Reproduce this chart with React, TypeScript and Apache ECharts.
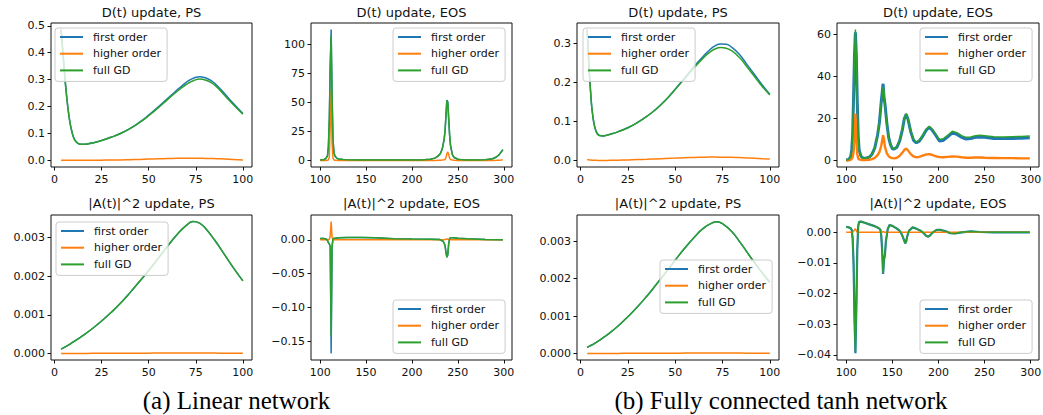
import React, { useEffect, useRef } from "react";
import * as echarts from "echarts";

// ---------- data ----------
const seriesNames = ["first order", "higher order", "full GD"];
const titles = [
  "D(t) update, PS",
  "D(t) update, EOS",
  "D(t) update, PS",
  "D(t) update, EOS",
  "|A(t)|^2 update, PS",
  "|A(t)|^2 update, EOS",
  "|A(t)|^2 update, PS",
  "|A(t)|^2 update, EOS",
];
const captions = ["(a) Linear network", "(b) Fully connected tanh network"];

const psTicks = [0, 25, 50, 75, 100];
const eosTicks = [100, 150, 200, 250, 300];
const p1YTicks = [0, 0.1, 0.2, 0.3, 0.4, 0.5];
const p2YTicks = [0, 25, 50, 75, 100];
const p3YTicks = [0, 0.1, 0.2, 0.3];
const p4YTicks = [0, 20, 40, 60];
const p5YTicks = [0, 0.001, 0.002, 0.003];
const p6YTicks = [-0.15, -0.1, -0.05, 0];
const p7YTicks = [0, 0.001, 0.002, 0.003];
const p8YTicks = [-0.04, -0.03, -0.02, -0.01, 0];

// Panel 1: linear, D(t), PS
const p1X = [3.5, 4.5, 5.5, 6.5, 7.5, 8.5, 9.5, 10.5, 12, 14, 16, 18, 20, 25, 30, 35, 40, 45, 50, 55, 60, 65, 68, 71, 74, 77, 80, 83, 86, 90, 95, 100];
const p1Full = [0.486, 0.4, 0.31, 0.235, 0.175, 0.13, 0.1, 0.08, 0.066, 0.06, 0.06, 0.062, 0.065, 0.074, 0.086, 0.1, 0.118, 0.14, 0.166, 0.195, 0.226, 0.256, 0.272, 0.287, 0.297, 0.302, 0.299, 0.29, 0.274, 0.244, 0.207, 0.172];
const p1First = [0.486, 0.4, 0.31, 0.235, 0.175, 0.13, 0.1, 0.08, 0.066, 0.06, 0.06, 0.062, 0.065, 0.074, 0.086, 0.1, 0.118, 0.141, 0.168, 0.198, 0.23, 0.261, 0.279, 0.295, 0.306, 0.311, 0.307, 0.297, 0.28, 0.25, 0.211, 0.174];
const p1Higher = [0.001, 0.001, 0.0008, 0.0006, 0.0005, 0.0004, 0.0003, 0.0003, 0.0003, 0.0003, 0.0004, 0.0005, 0.0006, 0.001, 0.0015, 0.002, 0.003, 0.004, 0.005, 0.006, 0.007, 0.0078, 0.008, 0.0082, 0.0082, 0.008, 0.0077, 0.0072, 0.0066, 0.0055, 0.0038, 0.002];

// Panel 2: linear, D(t), EOS
const p2X = [100, 104, 106, 108, 109, 110, 111, 112, 113, 114, 115, 116, 118, 120, 125, 130, 140, 160, 180, 200, 210, 220, 225, 228, 231, 233, 235, 236, 237, 238, 239, 240, 241, 242, 244, 246, 250, 255, 260, 270, 280, 288, 292, 295, 297, 299];
const p2Full = [0.3, 0.6, 1.5, 4, 12, 35, 80, 107.7, 55, 18, 7, 4, 2, 1.3, 0.8, 0.5, 0.3, 0.3, 0.3, 0.3, 0.4, 1, 2, 3.5, 6, 10, 18, 25, 38, 51.5, 50, 36, 22, 13, 5, 2.5, 1, 0.5, 0.4, 0.4, 0.6, 1.5, 3, 5, 7, 9.4];
const p2First = [0.3, 0.6, 1.5, 4, 12, 36, 82, 112.8, 57, 18, 7, 4, 2, 1.3, 0.8, 0.5, 0.3, 0.3, 0.3, 0.3, 0.4, 1, 2, 3.5, 6, 10, 18, 25, 38, 52, 50.5, 36, 22, 13, 5, 2.5, 1, 0.5, 0.4, 0.4, 0.6, 1.5, 3, 5, 7, 9.4];
const p2Higher = [0, 0, 0, 0.1, 0.5, 3, 30, 60.5, 15, 2, 0.5, 0.2, 0.1, 0.05, 0, 0, 0, 0, 0, 0, 0, 0, 0.05, 0.1, 0.2, 0.3, 0.6, 1, 2.5, 5.5, 7.4, 5, 2, 0.8, 0.3, 0.1, 0.05, 0, 0, 0, 0, 0.05, 0.1, 0.2, 0.3, 0.5];

// Panel 3: tanh, D(t), PS
const p3X = [3.5, 4, 4.5, 5, 5.5, 6, 7, 8, 9, 10, 12, 14, 17, 20, 25, 30, 35, 40, 45, 50, 55, 60, 65, 68, 71, 74, 77, 80, 84, 88, 92, 96, 100];
const p3Full = [0.336, 0.29, 0.24, 0.2, 0.165, 0.135, 0.098, 0.078, 0.068, 0.064, 0.063, 0.065, 0.069, 0.074, 0.084, 0.097, 0.113, 0.132, 0.155, 0.182, 0.21, 0.238, 0.264, 0.277, 0.286, 0.29, 0.288, 0.281, 0.264, 0.24, 0.215, 0.19, 0.168];
const p3First = [0.336, 0.29, 0.24, 0.2, 0.165, 0.135, 0.098, 0.078, 0.068, 0.064, 0.063, 0.065, 0.069, 0.074, 0.084, 0.097, 0.113, 0.132, 0.155, 0.183, 0.212, 0.241, 0.268, 0.283, 0.294, 0.299, 0.298, 0.29, 0.272, 0.246, 0.22, 0.194, 0.17];
const p3Higher = [0.002, 0.0018, 0.0015, 0.0012, 0.001, 0.0008, 0.0005, 0.0003, 0.0002, 0.0001, 0.0001, 0.0002, 0.0004, 0.0007, 0.0014, 0.0022, 0.003, 0.004, 0.005, 0.006, 0.007, 0.0078, 0.0084, 0.0086, 0.0086, 0.0085, 0.0083, 0.008, 0.0074, 0.0066, 0.0057, 0.0046, 0.0035];

// Panel 4: tanh, D(t), EOS
const p4X = [100, 103, 105, 106, 107, 108, 109, 110, 111, 112, 113, 114, 116, 118, 120, 125, 128, 131, 134, 136, 138, 140, 141, 142, 144, 146, 148, 150, 152, 155, 158, 161, 163, 165, 167, 170, 173, 176, 179, 183, 187, 190, 193, 197, 201, 205, 210, 215, 220, 225, 230, 235, 240, 245, 250, 260, 270, 280, 290, 299];
const p4Full = [0.2, 0.5, 2, 5, 12, 30, 50, 62.3, 50, 28, 12, 5, 2, 1.2, 1, 1.5, 3, 6, 12, 18, 27, 35, 33, 26, 17, 11, 7.5, 5.8, 5.6, 6.5, 9.5, 15, 20, 22.3, 20, 14, 10, 8.8, 9.5, 12, 15, 16.3, 15, 12.5, 10, 10.3, 12, 13.9, 13.2, 11.8, 11, 11.2, 11.8, 12, 11.8, 11.3, 11.2, 11.3, 11.4, 11.6];
const p4First = [0.2, 0.5, 2, 5, 12, 30, 50, 61, 50, 28, 12, 5, 2, 1.2, 1, 1.5, 3, 6, 12, 18, 28, 36.5, 30, 27, 18, 11, 7.5, 5.6, 5.4, 6.3, 9.3, 14.8, 19.8, 22, 19.6, 13.6, 9.6, 8.4, 9.1, 11.6, 14.6, 15.8, 14.5, 12, 9.3, 9.5, 11.2, 13.1, 12.4, 11, 10.2, 10.4, 11, 11.2, 11, 10.5, 10.4, 10.5, 10.6, 10.8];
const p4Higher = [0, 0.1, 0.3, 0.8, 1.5, 4, 10, 22.3, 12, 3, 1, 0.5, 0.3, 0.2, 0.2, 0.3, 0.6, 1.2, 2.5, 4, 7, 12, 10, 6.5, 3.5, 2, 1.4, 1.1, 1, 1.3, 2.2, 3.8, 5, 5.7, 4.8, 3, 1.9, 1.5, 1.7, 2.3, 2.9, 3, 2.7, 2, 1.6, 1.5, 1.7, 1.9, 1.8, 1.5, 1.3, 1.3, 1.4, 1.4, 1.3, 1.2, 1.1, 1.1, 1.0, 1.0];

// Panel 5: linear, |A|^2, PS
const p5X = [3.5, 5, 7.5, 10, 12.5, 15, 20, 25, 30, 35, 40, 45, 50, 55, 60, 65, 70, 73.5, 77, 80, 85, 90, 95, 100];
const p5Full = [0.00011, 0.00015, 0.00022, 0.0003, 0.00038, 0.00046, 0.00064, 0.00084, 0.00106, 0.0013, 0.00157, 0.00186, 0.00215, 0.00246, 0.00278, 0.00308, 0.00332, 0.00342, 0.00338, 0.00325, 0.00294, 0.00258, 0.00222, 0.00188];
const p5First = [0.00011, 0.00015, 0.00022, 0.0003, 0.00038, 0.00046, 0.00064, 0.00084, 0.00106, 0.0013, 0.00157, 0.00186, 0.00215, 0.00246, 0.00278, 0.00308, 0.00332, 0.00342, 0.00338, 0.00325, 0.00294, 0.00258, 0.00222, 0.00188];
const p5Higher = [0, 0, 0, 0, 0, 0, 0.000001, 0.000002, 0.000003, 0.000004, 0.000005, 0.000006, 0.000007, 0.000008, 0.000009, 0.00001, 0.00001, 0.00001, 0.00001, 0.000009, 0.000008, 0.000006, 0.000005, 0.000004];

// Panel 6: linear, |A|^2, EOS
const p6X = [100, 104, 107, 108, 109, 110, 111, 112, 113, 114, 115, 117, 120, 130, 145, 160, 180, 200, 220, 230, 234, 236, 237, 238, 239, 240, 241, 242, 245, 250, 260, 280, 299];
const p6Full = [0.002, 0.002, 0.001, -0.001, -0.004, -0.006, -0.01, -0.143, -0.01, 0.002, 0.002, 0.0025, 0.003, 0.0035, 0.0035, 0.003, 0.0018, 0.0012, 0.0008, 0.0005, -0.002, -0.008, -0.018, -0.0256, -0.022, -0.006, 0.002, 0.003, 0.0032, 0.0025, 0.0015, 0.0005, 0.0002];
const p6First = [0.002, 0.002, 0.001, -0.001, -0.004, -0.006, -0.01, -0.168, -0.01, 0.002, 0.002, 0.0025, 0.003, 0.0035, 0.0035, 0.003, 0.0018, 0.0012, 0.0008, 0.0005, -0.002, -0.008, -0.018, -0.0256, -0.022, -0.006, 0.002, 0.003, 0.0032, 0.0025, 0.0015, 0.0005, 0.0002];
const p6Higher = [0, 0, 0, 0, 0, 0.001, 0.006, 0.027, 0.004, 0, 0, 0, 0, 0, 0, 0, 0, 0, 0, 0, 0, 0.0005, 0.001, 0.0015, 0.001, 0.0005, 0, 0, 0, 0, 0, 0, 0];

// Panel 7: tanh, |A|^2, PS
const p7X = [3.5, 5, 7.5, 10, 12.5, 15, 20, 25, 30, 35, 40, 45, 50, 55, 60, 65, 70, 72, 75, 80, 85, 90, 95, 100];
const p7Full = [0.00016, 0.0002, 0.00027, 0.00035, 0.00044, 0.00053, 0.00074, 0.00098, 0.00124, 0.00153, 0.00184, 0.00216, 0.00249, 0.00281, 0.0031, 0.00335, 0.0035, 0.00352, 0.00347, 0.00325, 0.00292, 0.00256, 0.00222, 0.0019];
const p7First = [0.00016, 0.0002, 0.00027, 0.00035, 0.00044, 0.00053, 0.00074, 0.00098, 0.00124, 0.00153, 0.00184, 0.00216, 0.00249, 0.00281, 0.0031, 0.00335, 0.0035, 0.00352, 0.00347, 0.00325, 0.00292, 0.00256, 0.00222, 0.0019];
const p7Higher = [0, 0, 0, 0, 0, 0, 0.000001, 0.000002, 0.000003, 0.000004, 0.000005, 0.000006, 0.000007, 0.000008, 0.000009, 0.00001, 0.00001, 0.00001, 0.00001, 0.000009, 0.000008, 0.000007, 0.000006, 0.000005];

// Panel 8: tanh, |A|^2, EOS
const p8X = [100, 103, 105, 106, 107, 108, 109, 110, 111, 112, 113, 114, 116, 120, 125, 130, 135, 137, 138, 139, 140, 141, 142, 143, 144, 145, 147, 150, 155, 158, 160, 162, 164, 165, 166, 168, 172, 176, 180, 184, 187, 189, 191, 194, 198, 202, 208, 213, 218, 225, 235, 245, 260, 280, 299];
const p8Full = [0.0018, 0.0016, 0.0013, 0.0008, -0.002, -0.01, -0.028, -0.0389, -0.025, -0.006, 0.002, 0.0034, 0.0035, 0.0031, 0.0026, 0.0021, 0.0014, 0.0009, -0.001, -0.006, -0.0134, -0.009, -0.0074, -0.003, -0.001, 0.001, 0.0024, 0.0021, 0.0012, 0.0005, -0.0005, -0.002, -0.0036, -0.003, -0.0015, 0.0005, 0.0016, 0.0012, 0.0006, -0.0003, -0.0012, -0.0014, -0.001, 0, 0.0008, 0.0008, 0.0003, -0.0003, -0.0004, 0, 0.0003, 0.0001, 0, 0, 0];
const p8First = [0.0018, 0.0016, 0.0013, 0.0008, -0.002, -0.01, -0.028, -0.0395, -0.025, -0.006, 0.002, 0.0034, 0.0035, 0.0031, 0.0026, 0.0021, 0.0014, 0.0009, -0.001, -0.006, -0.0136, -0.009, -0.0074, -0.003, -0.001, 0.001, 0.0024, 0.0021, 0.0012, 0.0005, -0.0005, -0.002, -0.0036, -0.003, -0.0015, 0.0005, 0.0016, 0.0012, 0.0006, -0.0003, -0.0012, -0.0014, -0.001, 0, 0.0008, 0.0008, 0.0003, -0.0003, -0.0004, 0, 0.0003, 0.0001, 0, 0, 0];
const p8Higher = [0, 0, 0, 0, 0, 0.0003, 0.0008, 0.0012, 0.0005, 0, 0, 0, 0, 0, 0, 0, 0, 0, 0, 0.0001, 0.0002, 0.0001, 0, 0, 0, 0, 0, 0, 0, 0, 0, 0, 0, 0, 0, 0, 0, 0, 0, 0, 0, 0, 0, 0, 0, 0, 0, 0, 0, 0, 0, 0, 0, 0, 0];

// ---------- layout ----------
const COLORS = ["#1f77b4", "#ff7f0e", "#2ca02c"];
const FONT = "DejaVu Sans";

const panels = [
  { x: p1X, ys: [p1First, p1Higher, p1Full], grid: { left: 51, top: 23, width: 201, height: 144 }, xr: [-1.85, 104.85], xt: psTicks, yr: [-0.0243, 0.5103], yt: p1YTicks, dec: 1, lg: [55, 28], smooth: true, w: [1.5, 1.5, 1.5] },
  { x: p2X, ys: [p2First, p2Higher, p2Full], grid: { left: 311, top: 23, width: 201, height: 144 }, xr: [90.05, 308.95], xt: eosTicks, yr: [-5.64, 118.4], yt: p2YTicks, dec: 0, lg: [393, 28], smooth: false, w: [1.5, 1.5, 1.5] },
  { x: p3X, ys: [p3First, p3Higher, p3Full], grid: { left: 577, top: 23, width: 202, height: 144 }, xr: [-1.85, 104.85], xt: psTicks, yr: [-0.0168, 0.3528], yt: p3YTicks, dec: 1, lg: [583, 28], smooth: true, w: [1.5, 1.5, 1.5] },
  { x: p4X, ys: [p4First, p4Higher, p4Full], grid: { left: 837, top: 23, width: 202, height: 144 }, xr: [90.05, 308.95], xt: eosTicks, yr: [-3.115, 65.4], yt: p4YTicks, dec: 0, lg: [920, 28], smooth: false, w: [3, 2.4, 1.5] },
  { x: p5X, ys: [p5First, p5Higher, p5Full], grid: { left: 51, top: 215, width: 201, height: 145 }, xr: [-1.85, 104.85], xt: psTicks, yr: [-0.000171, 0.00359], yt: p5YTicks, dec: 3, lg: [56, 222], smooth: true, w: [1.5, 1.5, 1.5] },
  { x: p6X, ys: [p6First, p6Higher, p6Full], grid: { left: 311, top: 215, width: 201, height: 145 }, xr: [90.05, 308.95], xt: eosTicks, yr: [-0.1778, 0.0368], yt: p6YTicks, dec: 2, lg: [393, 300], smooth: false, w: [1.5, 1.5, 1.5] },
  { x: p7X, ys: [p7First, p7Higher, p7Full], grid: { left: 577, top: 215, width: 202, height: 145 }, xr: [-1.85, 104.85], xt: psTicks, yr: [-0.000176, 0.0037], yt: p7YTicks, dec: 3, lg: [660, 260], smooth: true, w: [1.5, 1.5, 1.5] },
  { x: p8X, ys: [p8First, p8Higher, p8Full], grid: { left: 837, top: 215, width: 202, height: 145 }, xr: [90.05, 308.95], xt: eosTicks, yr: [-0.0417, 0.00565], yt: p8YTicks, dec: 2, lg: [920, 300], smooth: false, w: [2.2, 1.5, 1.5] },
];

const fmt = (v: number, dec: number) => {
  const s = Math.abs(v) < 1e-12 ? (0).toFixed(dec) : v.toFixed(dec);
  return s.replace("-", "\u2212");
};

export default function App() {
  const ref = useRef<HTMLDivElement>(null);
  useEffect(() => {
    if (!ref.current) return;
    const chart = echarts.init(ref.current, null, { renderer: "svg" });

    const grid = panels.map((p) => ({
      ...p.grid,
      show: true,
      borderColor: "#111",
      borderWidth: 1,
      backgroundColor: "transparent",
      containLabel: false,
      outerBoundsMode: "none",
    }));

    const xAxis = panels.map((p, i) => ({
      gridIndex: i,
      type: "value",
      min: p.xr[0],
      max: p.xr[1],
      splitLine: { show: false },
      axisLine: { show: false, onZero: false },
      axisTick: { show: true, length: 3.5, lineStyle: { color: "#111", width: 1 }, customValues: p.xt },
      axisLabel: {
        customValues: p.xt,
        color: "#111",
        fontSize: 11,
        fontFamily: FONT,
        margin: 7,
        formatter: (v: number) => fmt(v, 0),
      },
    }));

    const yAxis = panels.map((p, i) => ({
      gridIndex: i,
      type: "value",
      min: p.yr[0],
      max: p.yr[1],
      splitLine: { show: false },
      axisLine: { show: false, onZero: false },
      axisTick: { show: true, length: 3.5, lineStyle: { color: "#111", width: 1 }, customValues: p.yt },
      axisLabel: {
        customValues: p.yt,
        color: "#111",
        fontSize: 11,
        fontFamily: FONT,
        margin: 6,
        formatter: (v: number) => fmt(v, p.dec),
      },
    }));

    const series: any[] = [];
    panels.forEach((p, i) => {
      p.ys.forEach((ys, s) => {
        series.push({
          type: "line",
          name: seriesNames[s],
          xAxisIndex: i,
          yAxisIndex: i,
          data: p.x.map((x, k) => [x, ys[k]]),
          symbol: "none",
          showSymbol: false,
          smooth: p.smooth ? 0.5 : false,
          silent: true,
          lineStyle: { color: COLORS[s], width: p.w[s] },
          itemStyle: { color: COLORS[s] },
          emphasis: { disabled: true },
          z: 2 + s,
        });
      });
    });

    const legend = panels.map((p) => ({
      left: p.lg[0],
      top: p.lg[1],
      orient: "vertical",
      icon: "rect",
      itemWidth: 23,
      itemHeight: 2,
      itemGap: 4.7,
      padding: [3, 6, 5, 5],
      backgroundColor: "rgba(255,255,255,0.8)",
      borderColor: "#cccccc",
      borderWidth: 1,
      borderRadius: 3,
      selectedMode: false,
      data: seriesNames,
      z: 10,
      textStyle: { fontSize: 11, lineHeight: 12, color: "#111", fontFamily: FONT, padding: [0, 0, 0, 5] },
    }));

    const graphic: any[] = [];
    panels.forEach((p, i) => {
      graphic.push({
        type: "text",
        x: p.grid.left + p.grid.width / 2,
        y: i < 4 ? 12 : 203,
        style: {
          text: titles[i],
          align: "center",
          verticalAlign: "middle",
          fontSize: 13,
          fontFamily: FONT,
          fill: "#111",
        },
      });
    });
    [236.5, 781].forEach((cx, j) => {
      graphic.push({
        type: "text",
        x: cx,
        y: 400,
        style: {
          text: captions[j],
          align: "center",
          verticalAlign: "middle",
          fontSize: 25,
          fontFamily: "Liberation Serif",
          fill: "#000",
        },
      });
    });

    chart.setOption({
      animation: false,
      backgroundColor: "#ffffff",
      grid,
      xAxis,
      yAxis,
      series,
      legend,
      graphic,
    } as any);

    return () => chart.dispose();
  }, []);

  return (
    <div
      ref={ref}
      style={{ position: "absolute", left: 0, top: 0, width: 1043, height: 415 }}
    />
  );
}
